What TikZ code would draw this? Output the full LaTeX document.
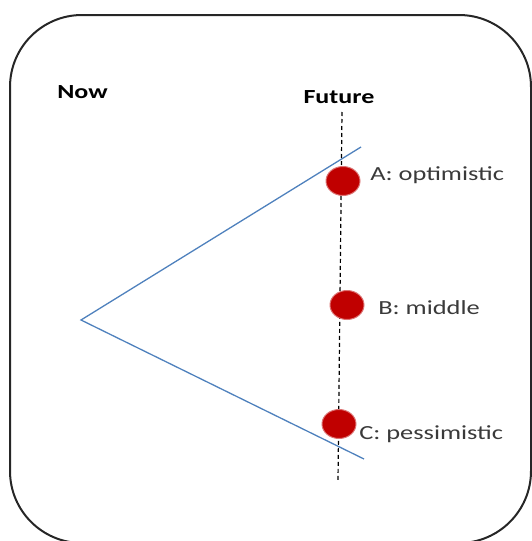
\documentclass[tikz,border=0pt]{standalone}
\usepackage{fontspec}
\setmainfont{Carlito}
\usetikzlibrary{shapes.geometric}
\definecolor{scnBlue}{HTML}{4F81BD}
\definecolor{scnRed}{HTML}{C00000}
\definecolor{scnText}{HTML}{3A3A3A}

\begin{document}
\begin{tikzpicture}[x=1pt, y=-1pt,
  dot/.style={ellipse, fill=scnRed, draw=scnRed!55, line width=1pt,
    minimum width=34pt, minimum height=29pt, inner sep=0pt},
  lbl/.style={font=\fontsize{20}{24}\selectfont, text=scnText,
    anchor=base west, inner sep=0pt, xscale=1.32},
  head/.style={font=\fontsize{20}{24}\selectfont\bfseries, text=black,
    inner sep=0pt, xscale=1.3}]
  \useasboundingbox (0,0) rectangle (532,541);
  % frame
  \draw[line width=2pt, black!85, rounded corners=72pt] (10,15) rectangle (531,543);

  % cone from now to the future
  \coordinate (now) at (81,320);
  \coordinate (upEnd) at (361,147);
  \coordinate (lowEnd) at (364,459);
  \coordinate (futTop) at (342,112);
  \coordinate (futBot) at (338,481);
  \draw[scnBlue, line width=1.3pt] (upEnd) -- (now) -- (lowEnd);
  \draw[black, line width=1.2pt, dash pattern=on 4pt off 3pt] (futTop) -- (futBot);

  % scenarios
  \node[dot] (optA) at (343,181) {};
  \node[dot] (midB) at (347,305) {};
  \node[dot] (pesC) at (339,424) {};

  \node[head, anchor=base west] (nowLbl) at (57,98) {Now};
  \node[head, anchor=base] (futLbl) at (339,103) {Future};
  \node[lbl] (lblA) at (370,180) {A: optimistic};
  \node[lbl] (lblB) at (378,314) {B: middle};
  \node[lbl] (lblC) at (359,439) {C: pessimistic};
\end{tikzpicture}
\end{document}
